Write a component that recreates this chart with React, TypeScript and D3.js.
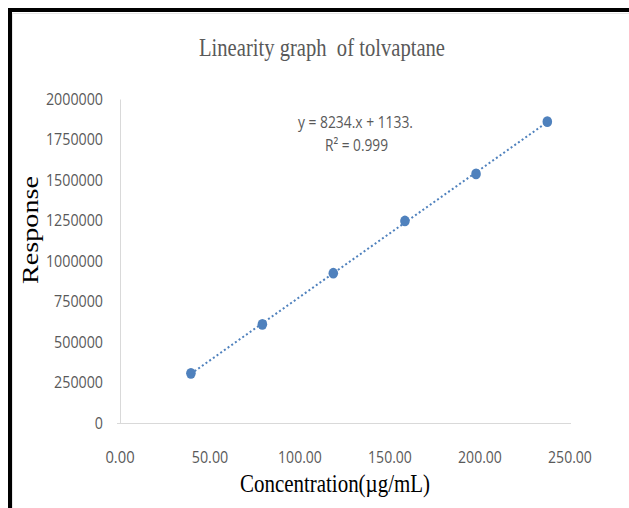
import React from "react";
import * as d3 from "d3";

const concentration = [39.4, 79.1, 118.5, 158.3, 197.8, 237.4];
const response = [307000, 610000, 926000, 1249000, 1540000, 1863000];
const yTicks = [0, 250000, 500000, 750000, 1000000, 1250000, 1500000, 1750000, 2000000];
const xTicks = [0, 50, 100, 150, 200, 250];
const title = "Linearity graph  of tolvaptane";
const xTitle = "Concentration(\u00B5g/mL)";
const yTitle = "Response";
const equation = "y = 8234.x + 1133.";
const rSquared = "R\u00B2 = 0.999";

const W = 629;
const H = 508;
const BLUE = "#4F81BD";
const GRAY = "#595959";
const NUM_FONT = "'Liberation Sans Narrow', 'Open Sans', 'Liberation Sans', sans-serif";
const SERIF = "'Liberation Serif', 'DejaVu Serif', serif";

export default function App() {
  const x = d3.scaleLinear().domain([0, 250]).range([120, 570]);
  const y = d3.scaleLinear().domain([0, 2000000]).range([423, 99.5]);

  const pts = concentration.map((c, i) => ({ c, r: response[i] }));
  const n = pts.length;
  const mx = d3.mean(concentration) as number;
  const my = d3.mean(response) as number;
  const slope =
    d3.sum(pts, (p) => (p.c - mx) * (p.r - my)) / d3.sum(pts, (p) => (p.c - mx) ** 2);
  const icpt = my - slope * mx;
  const x0 = concentration[0];
  const x1 = concentration[n - 1];
  const line = d3
    .line<number>()
    .x((d) => x(d))
    .y((d) => y(slope * d + icpt));

  const yLabelWidth = (s: string) => s.length * 8.15;

  return (
    <svg
      width={W}
      height={H}
      style={{ position: "absolute", left: 0, top: 0, background: "#fff" }}
    >
      <rect x={0} y={0} width={W} height={H} fill="#fff" />
      {/* frame */}
      <rect x={8} y={8} width={4} height={H - 8} fill="#000" />
      <rect x={8} y={8} width={W - 8} height={4} fill="#000" />
      <line x1={12.5} y1={13} x2={12.5} y2={H} stroke="#e6e6e6" strokeWidth={1} />
      <line x1={12} y1={13.5} x2={W} y2={13.5} stroke="#e6e6e6" strokeWidth={1} />

      {/* title */}
      <text
        x={322}
        y={56}
        textAnchor="middle"
        fontFamily={SERIF}
        fontSize={25}
        fill={GRAY}
        textLength={246}
        lengthAdjust="spacingAndGlyphs"
        style={{ whiteSpace: "pre" }}
      >
        {title}
      </text>

      {/* axes */}
      <line x1={120.5} y1={y(2000000)} x2={120.5} y2={423.5} stroke="#d9d9d9" strokeWidth={1} />
      <line x1={117} y1={423.5} x2={571} y2={423.5} stroke="#d9d9d9" strokeWidth={1} />

      {yTicks.map((t) => {
        const s = String(t);
        return (
          <text
            key={t}
            x={103}
            y={y(t) + 5.5}
            textAnchor="end"
            fontFamily={NUM_FONT}
            fontSize={16}
            fill={GRAY}
            textLength={yLabelWidth(s)}
            lengthAdjust="spacingAndGlyphs"
          >
            {s}
          </text>
        );
      })}

      {xTicks.map((t) => {
        const s = t.toFixed(2);
        return (
          <text
            key={t}
            x={x(t)}
            y={463}
            textAnchor="middle"
            fontFamily={NUM_FONT}
            fontSize={15.5}
            fill={GRAY}
            textLength={s.length * 7.3}
            lengthAdjust="spacingAndGlyphs"
          >
            {s}
          </text>
        );
      })}

      {/* axis titles */}
      <text
        x={335}
        y={492}
        textAnchor="middle"
        fontFamily={SERIF}
        fontSize={25}
        fill="#000"
        textLength={190}
        lengthAdjust="spacingAndGlyphs"
      >
        {xTitle}
      </text>
      <text
        transform={`translate(38,230) rotate(-90)`}
        textAnchor="middle"
        fontFamily={SERIF}
        fontSize={24}
        fill="#000"
        textLength={108}
        lengthAdjust="spacingAndGlyphs"
      >
        {yTitle}
      </text>

      {/* trendline */}
      <path
        d={line([x0, x1]) || ""}
        fill="none"
        stroke={BLUE}
        strokeWidth={2}
        strokeDasharray="2 2.5"
      />

      {/* points */}
      {pts.map((p, i) => (
        <ellipse key={i} cx={x(p.c)} cy={y(p.r)} rx={4.8} ry={5.4} fill={BLUE} />
      ))}

      {/* equation */}
      <text
        x={355.5}
        y={128}
        textAnchor="middle"
        fontFamily={NUM_FONT}
        fontSize={17}
        fill={GRAY}
        textLength={115}
        lengthAdjust="spacingAndGlyphs"
      >
        {equation}
      </text>
      <text
        x={356.5}
        y={151}
        textAnchor="middle"
        fontFamily={NUM_FONT}
        fontSize={17}
        fill={GRAY}
        textLength={63}
        lengthAdjust="spacingAndGlyphs"
      >
        {rSquared}
      </text>
    </svg>
  );
}
